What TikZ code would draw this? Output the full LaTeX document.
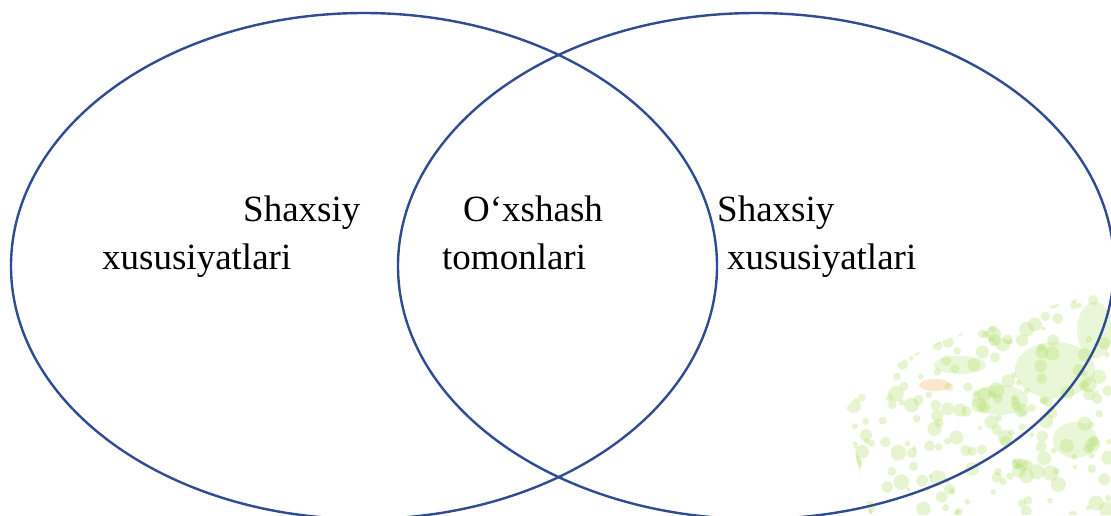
\documentclass[tikz,border=0pt]{standalone}
\usepackage{fontspec}
\setmainfont{Liberation Serif}
\usepackage{xcolor}
\usetikzlibrary{positioning}

\definecolor{vennblue}{RGB}{47,76,145}
\definecolor{leafgreen}{RGB}{175,222,100}
\definecolor{leaforange}{RGB}{240,190,110}

\tikzset{
    vennline/.style={draw=vennblue, line width=2.4pt},
    vennlabel/.style={anchor=base west, inner sep=0pt, font=\fontsize{37}{44}\selectfont},
    blob/.style={fill=leafgreen, opacity=0.3}
}

\begin{document}
\begin{tikzpicture}[x=1pt, y=-1pt]
        \useasboundingbox (0, 0) rectangle (1111, 515);
        \fill[white] (0, 0) rectangle (1111, 515);

        % faint background leaves
        \begin{scope}
            \clip (845, 410) .. controls (900, 340) and (1000, 320) .. (1111, 290)
                -- (1111, 515) -- (870, 515) -- cycle;
            \pgfmathsetseed{11}
            \foreach \i in {1,...,260} {
                \pgfmathsetmacro{\px}{850+261*rnd}
                \pgfmathsetmacro{\py}{290+225*rnd}
                \pgfmathsetmacro{\pr}{2+6*rnd}
                \fill[blob] (\px, \py) circle (\pr);
            }
            \foreach \x/\y/\a/\b in {1055/370/40/28, 1095/330/18/28, 1000/400/28/15,
                                      1075/440/22/18, 960/365/26/9} {
                \fill[blob, opacity=0.25] (\x, \y) ellipse ({\a} and {\b});
            }
            \fill[leaforange, opacity=0.35] (935, 385) ellipse (16 and 6);
        \end{scope}

        % the two sets
        \coordinate (left) at (364, 266);
        \coordinate (right) at (756, 266);
        \draw[vennline] (left) ellipse (353 and 253);
        \draw[vennline] (right) ellipse (358 and 253);

        \node[vennlabel] (lefttop) at (243, 221) {Shaxsiy};
        \node[vennlabel] (leftbot) at (102, 269) {xususiyatlari};
        \node[vennlabel] (midtop) at (463, 221) {O‘xshash};
        \node[vennlabel] (midbot) at (442, 269) {tomonlari};
        \node[vennlabel] (righttop) at (717, 221) {Shaxsiy};
        \node[vennlabel] (rightbot) at (727, 269) {xususiyatlari};
    \end{tikzpicture}
\end{document}
